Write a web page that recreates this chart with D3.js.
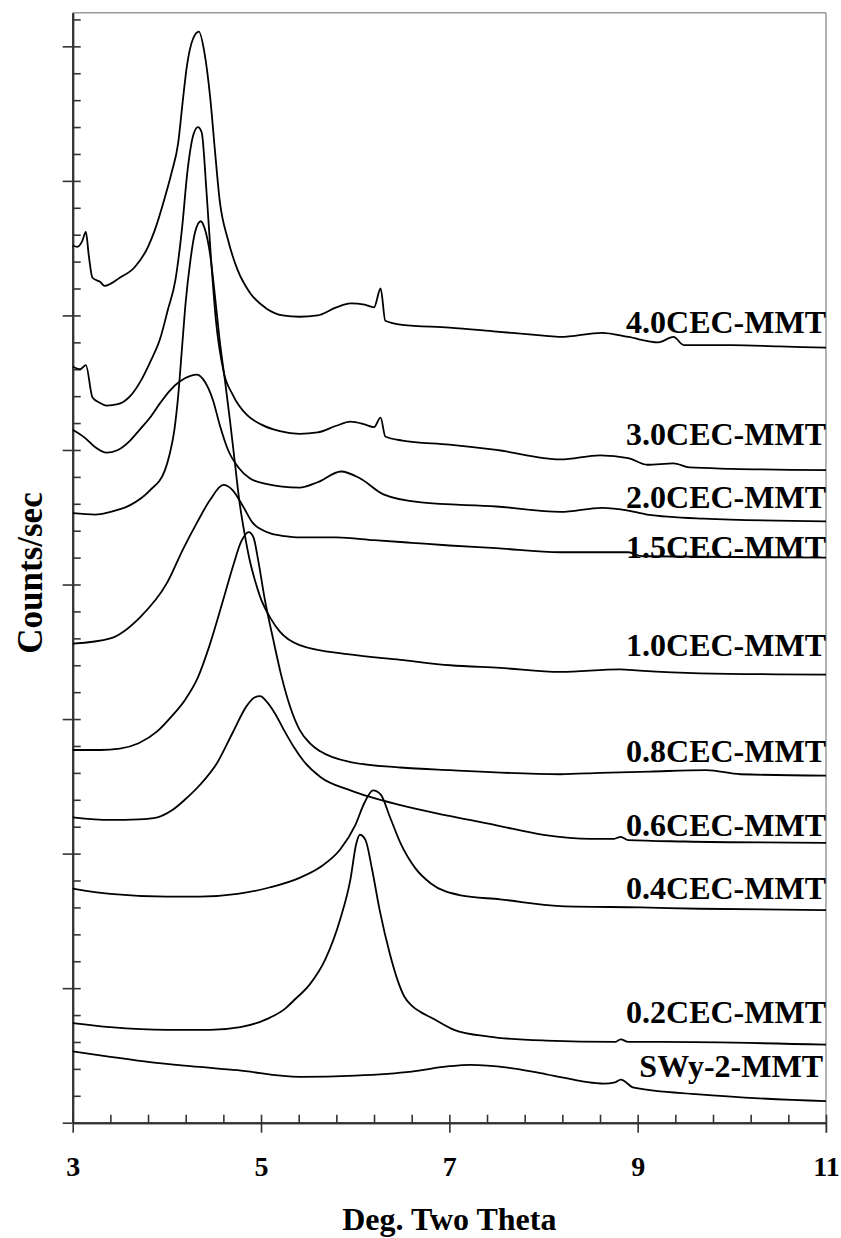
<!DOCTYPE html>
<html lang="en">
<head>
<meta charset="UTF-8">
<title>XRD patterns</title>
<style>
  body { margin: 0; background: #fff; }
  text { font-family: "Liberation Serif", "Times New Roman", serif; font-weight: bold; fill: #000; }
</style>
</head>
<body>
<svg id="chart"></svg>
<script src="https://d3js.org/d3.v7.min.js"></script>
<script>
// 2-theta (deg) and intensity (counts/sec, offset for stacking)
var s40 = [[3.00,652],[3.05,651],[3.10,655],[3.14,662],[3.17,645],[3.21,628],[3.29,625],[3.34,622],[3.50,628],[3.66,636],[3.80,651],[3.87,663],[3.98,688],[4.05,706],[4.12,728],[4.17,760],[4.21,784],[4.28,806],[4.34,811],[4.40,795],[4.46,762],[4.51,723],[4.56,686],[4.65,656],[4.75,634],[4.88,617],[5.06,605],[5.23,600],[5.41,599],[5.6,600],[5.8,606],[5.95,609],[6.1,608],[6.2,606],[6.27,620],[6.32,596],[6.5,593],[7.0,591],[7.5,588],[8.0,585],[8.18,584],[8.62,587],[8.9,584],[9.22,580],[9.38,584],[9.49,578],[10.0,578],[10.5,577],[11.0,576]];
var s30 = [[3.00,562],[3.08,560],[3.14,563],[3.21,539],[3.29,535],[3.36,533],[3.48,534],[3.61,540],[3.72,551],[3.82,565],[3.93,583],[4.01,604],[4.09,626],[4.16,664],[4.22,708],[4.28,734],[4.33,740],[4.37,736],[4.42,693],[4.47,641],[4.52,597],[4.6,559],[4.7,541],[4.85,526],[5.0,519],[5.2,514],[5.41,512],[5.6,513],[5.8,518],[5.95,521],[6.1,519],[6.2,517],[6.27,524],[6.32,510],[6.5,507],[7.0,504],[7.5,500],[8.18,493],[8.6,496],[8.9,494],[9.1,489],[9.38,490],[9.55,487],[10,486],[11,485]];
var s20 = [[3.00,515],[3.13,509],[3.24,502],[3.36,498],[3.48,500],[3.61,507],[3.71,515],[3.82,524],[3.93,535],[4.03,544],[4.14,551],[4.25,555],[4.32,556],[4.38,553],[4.44,546],[4.49,537],[4.56,519],[4.65,500],[4.76,487],[4.88,479],[5.04,475],[5.41,472],[5.6,476],[5.85,484],[6.05,479],[6.3,467],[6.7,461],[7.5,458],[8.18,454],[8.62,457],[8.9,455],[9.1,452],[9.7,449],[11,447]];
var s15 = [[3.0,356],[3.4,360],[3.72,376],[4.0,401],[4.17,426],[4.32,446],[4.46,463],[4.6,474],[4.7,470],[4.81,458],[4.91,446],[5.0,441],[5.1,438],[5.25,436],[5.41,435],[5.8,435],[6.2,433],[6.6,431],[7.0,429],[7.5,427],[8.18,424],[8.62,424],[8.9,424],[9.05,421],[11,420]];
var s10 = [[3.00,453],[3.24,452],[3.40,454],[3.61,459],[3.82,470],[3.98,485],[4.03,497],[4.08,515],[4.12,540],[4.16,575],[4.20,610],[4.25,641],[4.30,662],[4.36,670],[4.40,665],[4.46,645],[4.51,615],[4.56,582],[4.62,550],[4.67,522],[4.72,492],[4.77,462],[4.83,436],[4.88,418],[4.94,402],[4.99,391],[5.10,375],[5.20,365],[5.41,355],[5.94,348],[6.48,344],[7.01,340],[7.54,338],[8.18,335],[8.81,337],[9.02,336],[9.66,334],[11.0,333]];
var s08 = [[3.00,277],[3.29,277],[3.50,278],[3.70,282],[3.90,291],[4.05,302],[4.20,315],[4.33,331],[4.45,354],[4.60,389],[4.70,413],[4.79,432],[4.87,439],[4.92,435],[4.97,418],[5.04,389],[5.13,359],[5.22,331],[5.31,309],[5.41,292],[5.52,282],[5.63,276],[5.95,268],[6.48,264],[7.01,262],[8.18,259],[8.60,260],[9.13,261],[9.73,262],[10.09,259],[11.0,258]];
var s06 = [[3.00,227],[3.40,225],[3.70,225.5],[3.90,227],[4.05,232],[4.19,240],[4.35,251],[4.53,267],[4.70,290],[4.85,310],[4.93,316],[4.99,317],[5.06,313],[5.15,304],[5.25,291],[5.35,279],[5.45,269],[5.63,257],[5.95,247],[6.48,236],[7.0,228],[7.5,221],[8.0,214],[8.5,211],[8.75,211],[8.82,212.5],[8.9,210],[9.5,209],[11.0,208]];
var s04 = [[3.0,174],[3.40,170],[4.00,168],[4.35,168],[4.75,170],[5.10,175],[5.41,182],[5.63,190],[5.84,203],[6.00,221],[6.10,238],[6.19,247],[6.27,244],[6.37,227],[6.48,208],[6.64,189],[6.80,178],[7.12,169],[7.54,166],[8.18,161],[9.03,160],[9.66,159],[11.0,158]];
var s02 = [[3.00,74],[3.40,71],[4.00,69],[4.46,69],[4.78,71],[5.06,77],[5.26,85],[5.35,91],[5.52,103],[5.68,121],[5.84,151],[5.95,181],[6.01,207],[6.05,214],[6.11,210],[6.18,188],[6.26,158],[6.37,125],[6.45,106],[6.52,94],[6.6,87],[6.7,82],[6.81,78],[7.05,69],[7.42,64],[8.03,61],[8.76,60],[8.82,62],[8.9,60],[9.25,60],[11.0,58]];
var swy = [[3.0,53],[3.4,49],[3.82,45],[4.25,42],[4.75,39],[5.41,34],[6.0,35],[6.6,38],[7.0,42],[7.22,43],[7.62,41],[8.03,36],[8.64,29],[8.76,30],[8.82,32],[8.96,26],[9.65,21],[11,16]];

var names = ["4.0CEC-MMT","3.0CEC-MMT","2.0CEC-MMT","1.5CEC-MMT","1.0CEC-MMT","0.8CEC-MMT","0.6CEC-MMT","0.4CEC-MMT","0.2CEC-MMT","SWy-2-MMT"];
var seriesData = [s40, s30, s20, s15, s10, s08, s06, s04, s02, swy];
var labelAt = [587, 504, 457, 420, 347, 268, 213, 166, 74, 34];   // baseline of each label, counts
var xTicks = [3, 5, 7, 9, 11];

var width = 841, height = 1238;
var margin = {top: 12.7, right: 15, bottom: 115.3, left: 72.7};

var svg = d3.select("#chart").attr("width", width).attr("height", height);

var x = d3.scaleLinear().domain([3, 11]).range([margin.left, width - margin.right]);
var y = d3.scaleLinear().domain([0, 825]).range([height - margin.bottom, margin.top]);

// frame: top and right in grey
svg.append("line").attr("x1", x(3)).attr("x2", x(11)).attr("y1", y(825)).attr("y2", y(825))
    .attr("stroke", "#9a9a9a").attr("stroke-width", 1.5);
svg.append("line").attr("x1", x(11)).attr("x2", x(11)).attr("y1", y(825)).attr("y2", y(0) + 10)
    .attr("stroke", "#9a9a9a").attr("stroke-width", 1.5);

// y axis: minor inward, major crossing
var yMinor = d3.range(0, 821, 20), yMajor = d3.range(0, 801, 100);
var gy = svg.append("g").attr("transform", "translate(" + x(3) + ",0)");
gy.append("g").call(d3.axisLeft(y).tickValues(yMinor).tickSize(-8).tickSizeOuter(0).tickFormat(""));
gy.append("g").call(d3.axisLeft(y).tickValues(yMajor).tickSize(10).tickSizeOuter(0).tickFormat(""));

// x axis
var xMinor = d3.range(3, 11.01, 0.4);
var gx = svg.append("g").attr("transform", "translate(0," + y(0) + ")");
gx.append("g").call(d3.axisBottom(x).tickValues(xMinor).tickSize(-8).tickSizeOuter(0).tickFormat(""));
gx.append("g").call(d3.axisBottom(x).tickValues(xTicks).tickSize(10).tickSizeOuter(0).tickFormat(d3.format("d")))
  .selectAll("text").attr("y", 53.5).attr("dy", 0).style("font-size", "28px").style("font-family", "Liberation Serif").style("font-weight", "bold");

svg.selectAll(".domain").attr("stroke", "#333").attr("stroke-width", 2);
svg.selectAll(".tick line").attr("stroke", "#333").attr("stroke-width", 1.6);

// curves
var line = d3.line().x(function (d) { return x(d[0]); }).y(function (d) { return y(d[1]); })
    .curve(d3.curveMonotoneX);

svg.append("g").selectAll("path")
    .data(seriesData)
    .enter().append("path")
    .attr("d", line)
    .attr("fill", "none")
    .attr("stroke", "#000")
    .attr("stroke-width", 1.8);

// series labels
svg.append("g").selectAll("text")
    .data(names)
    .enter().append("text")
    .attr("x", function (d, i) { return i === 9 ? x(11) - 3 : x(11); })
    .attr("y", function (d, i) { return y(labelAt[i]); })
    .attr("text-anchor", "end")
    .style("font-size", "32px")
    .text(function (d) { return d; });

// axis titles
svg.append("text")
    .attr("x", (x(3) + x(11)) / 2)
    .attr("y", 1230)
    .attr("text-anchor", "middle")
    .style("font-size", "32px")
    .text("Deg. Two Theta");

svg.append("text")
    .attr("transform", "translate(42," + 573 + ") rotate(-90)")
    .attr("text-anchor", "middle")
    .style("font-size", "35px")
    .text("Counts/sec");
</script>
</body>
</html>
